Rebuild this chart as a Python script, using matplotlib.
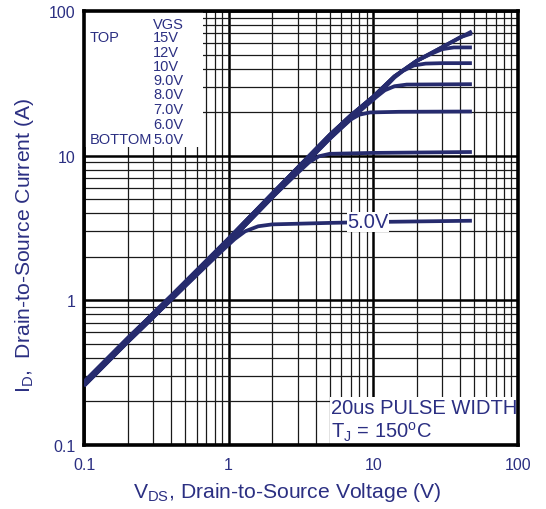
import matplotlib
matplotlib.use("Agg")
import matplotlib.pyplot as plt
from matplotlib.patches import Rectangle
from matplotlib.ticker import FixedLocator, NullFormatter

plt.rcParams["font.family"] = ["Liberation Sans", "DejaVu Sans"]
plt.rcParams["mathtext.fontset"] = "custom"
plt.rcParams["mathtext.rm"] = "Liberation Sans"

# ohmic region (upper and lower edge of the band)
vds_lin = [0.1, 0.2, 0.4, 1.0, 2.0, 3.0, 5.0, 7.0, 10.0, 14.0, 20.0, 30.0, 48.0]
id_lin_hi = [0.272, 0.545, 1.07, 2.67, 5.45, 8.25, 13.9, 19.0, 25.6, 35.3, 45.3, 56.3, 72.3]
id_lin_lo = [0.257, 0.515, 1.01, 2.52, 5.15, 7.8, 13.1, 18.0, 24.4, 34.7, 44.7, 55.7, 71.7]

# saturation part of each VGS curve (Vds, Id)
vgs_names = ["15V", "12V", "10V", "9.0V", "8.0V", "7.0V", "6.0V", "5.0V"]
vgs_band = ["hi", "hi", "hi", "lo", "hi", "lo", "lo", "lo"]
sat_vds = {
    "15V": [],
    "12V": [40.0, 48.0],
    "10V": [25.0, 30.0, 36.0, 48.0],
    "9.0V": [16.0, 19.0, 23.0, 30.0, 48.0],
    "8.0V": [10.0, 12.0, 14.0, 17.0, 48.0],
    "7.0V": [6.0, 7.0, 8.0, 9.5, 15.0, 48.0],
    "6.0V": [3.0, 3.6, 4.2, 5.0, 10.0, 48.0],
    "5.0V": [0.9, 1.1, 1.3, 1.6, 2.0, 5.0, 10.0, 48.0],
}
sat_id = {
    "15V": [],
    "12V": [66.0, 70.0],
    "10V": [50.5, 54.5, 56.0, 56.0],
    "9.0V": [38.5, 42.0, 43.3, 43.6, 43.6],
    "8.0V": [24.5, 28.3, 30.2, 31.0, 31.2],
    "7.0V": [15.5, 17.8, 19.2, 19.9, 20.1, 20.2],
    "6.0V": [7.6, 9.0, 9.9, 10.3, 10.45, 10.6],
    "5.0V": [2.2, 2.65, 3.0, 3.25, 3.35, 3.43, 3.48, 3.55],
}

xticks = [0.1, 1, 10, 100]
xtick_labels = ["0.1", "1", "10", "100"]
yticks = [0.1, 1, 10, 100]
ytick_labels = ["0.1", "1", "10", "100"]

navy = "#2B2F82"
curve_col = "#262B6E"
W, H = 546, 510


def fx(x):
    return x / W


def fy(y):
    return 1 - y / H


fig = plt.figure(figsize=(5.46, 5.10), dpi=100)
ax = fig.add_axes([fx(84), fy(446), 434 / W, 434 / H])
ax.set_xscale("log")
ax.set_yscale("log")
ax.set_xlim(0.1, 100)
ax.set_ylim(0.1, 100)

for name, band in zip(vgs_names, vgs_band):
    id_lin = id_lin_hi if band == "hi" else id_lin_lo
    sv = sat_vds[name]
    si = sat_id[name]
    if sv:
        cut = sv[0]
        xs = [v for v in vds_lin if v < cut] + sv
        ys = [i for v, i in zip(vds_lin, id_lin) if v < cut] + si
    else:
        xs, ys = vds_lin, id_lin
    ax.plot(xs, ys, color=curve_col, lw=2.7, zorder=3, solid_capstyle="butt")

ax.set_axisbelow(True)
minors = [m * 10.0 ** e for e in range(-1, 2) for m in range(2, 10)]
ax.xaxis.set_major_locator(FixedLocator(xticks))
ax.yaxis.set_major_locator(FixedLocator(yticks))
ax.set_xticklabels(xtick_labels)
ax.set_yticklabels(ytick_labels)
ax.xaxis.set_minor_locator(FixedLocator(minors))
ax.yaxis.set_minor_locator(FixedLocator(minors))
ax.xaxis.set_minor_formatter(NullFormatter())
ax.yaxis.set_minor_formatter(NullFormatter())
ax.grid(which="major", color="black", lw=1.8)
ax.grid(which="minor", color="#1a1a1a", lw=0.9)
ax.tick_params(which="both", length=0, labelsize=11.5, labelcolor=navy)
ax.tick_params(axis="y", pad=6)
ax.tick_params(axis="x", pad=9)
for sp in ax.spines.values():
    sp.set_linewidth(2.6)

# white boxes behind the legend text and the test conditions
ax.add_patch(Rectangle((0, (446 - 148) / 434), (203 - 84) / 434, 1, transform=ax.transAxes,
                       facecolor="white", edgecolor="none", zorder=1))
ax.add_patch(Rectangle(((330 - 84) / 434, 0), 1, (446 - 398) / 434, transform=ax.transAxes,
                       facecolor="white", edgecolor="none", zorder=1))

# VGS legend text
fig.text(fx(153), fy(25), "VGS", color=navy, fontsize=10.5, va="center", ha="left")
ys_leg = [38, 53, 67, 81, 95, 110, 125, 140]
for name, yy in zip(vgs_names, ys_leg):
    fig.text(fx(153), fy(yy), name, color=navy, fontsize=10.5, va="center", ha="left")
fig.text(fx(90), fy(38), "TOP", color=navy, fontsize=10.5, va="center", ha="left")
fig.text(fx(90), fy(140), "BOTTOM", color=navy, fontsize=10.5, va="center", ha="left")

# label on the 5.0V curve
ax.text(9.2, 3.5, "5.0V", color=navy, fontsize=14.5, ha="center", va="center", zorder=4,
        bbox=dict(facecolor="white", edgecolor="none", pad=0.3))

fig.text(fx(331), fy(408), "20us PULSE WIDTH", color=navy, fontsize=14.5, va="center", ha="left")
fig.text(fx(331), fy(432), r"T$_\mathregular{J}$ = 150$^\mathregular{o}$C", color=navy, fontsize=14.5,
         va="center", ha="left")

ax.set_xlabel(r"V$_\mathregular{DS}$, Drain-to-Source Voltage (V)", color=navy, fontsize=15.2)
ax.set_ylabel(r"I$_\mathregular{D}$,  Drain-to-Source Current (A)", color=navy, fontsize=15.2)
ax.xaxis.set_label_coords((287 - 84) / 434, -(493 - 446) / 434, transform=ax.transAxes)
ax.yaxis.set_label_coords(-(84 - 25) / 434, (446 - 245) / 434, transform=ax.transAxes)
ax.xaxis.label.set_va("center")
ax.yaxis.label.set_va("center")

fig.savefig("out.png", dpi=100)
